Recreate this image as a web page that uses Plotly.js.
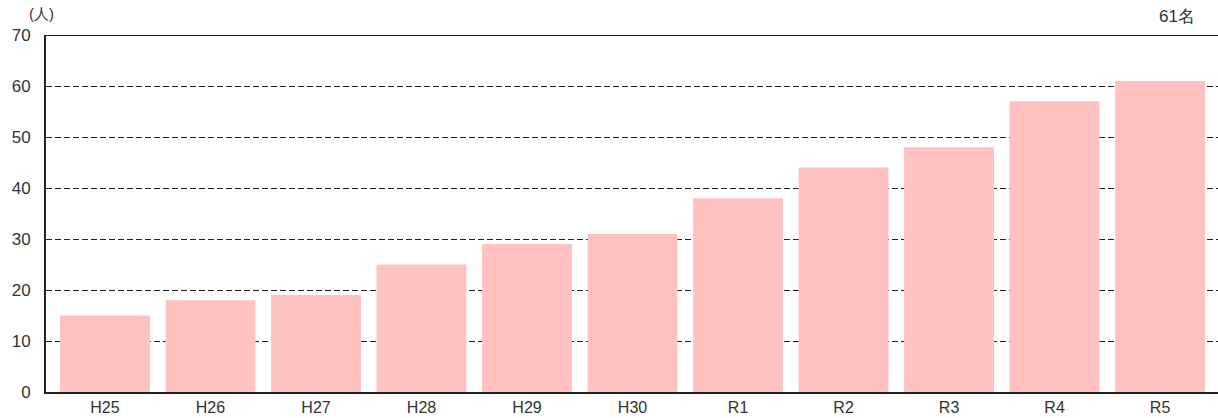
<!DOCTYPE html>
<html><head><meta charset="utf-8">
<script src="https://cdn.plot.ly/plotly-3.0.1.min.js"></script>
<style>body{margin:0;background:#fff}</style>
</head><body>
<div id="chart" style="width:1218px;height:418px"></div>
<script>
const categories = ["H25","H26","H27","H28","H29","H30","R1","R2","R3","R4","R5"];
const values = [15, 18, 19, 25, 29, 31, 38, 44, 48, 57, 61];
const yTicks = [0,10,20,30,40,50,60,70];
const unitLabel = "(人)";
const lastLabel = "61名";

const fontFam = "Liberation Sans, Arial, sans-serif";
Plotly.newPlot("chart", [{
  type: "bar",
  x: categories,
  y: values,
  marker: {color: "#ffc1c1"},
  hoverinfo: "x+y"
}], {
  width: 1218, height: 418,
  margin: {l: 46, r: 0, t: 35, b: 26},
  paper_bgcolor: "#fff", plot_bgcolor: "#fff",
  bargap: 0.148,
  showlegend: false,
  font: {family: fontFam, size: 17, color: "#333"},
  xaxis: {
    range: [-0.559, 10.549],
    showgrid: false, showline: true, linecolor: "#222", linewidth: 2,
    ticks: "", tickfont: {size: 16, color: "#333"}, fixedrange: true
  },
  yaxis: {
    range: [0, 70], tickvals: yTicks, showgrid: true, gridcolor: "#222",
    griddash: "6px,3px", gridwidth: 1, zeroline: false,
    showline: true, linecolor: "#222", linewidth: 2, ticks: "",
    ticklabelstandoff: 10, tickfont: {size: 17, color: "#333"}, fixedrange: true
  },
  shapes: [{type: "line", xref: "paper", yref: "y", x0: 0, x1: 1, y0: 70, y1: 70,
            line: {color: "#222", width: 2}}],
  annotations: [
    {text: unitLabel, xref: "paper", yref: "paper", x: -0.004, y: 1, yshift: 22,
     xanchor: "center", yanchor: "middle", showarrow: false, font: {size: 15, color: "#333"}},
    {text: lastLabel, xref: "paper", yref: "paper", x: 0.982, y: 1, yshift: 19,
     xanchor: "right", yanchor: "middle", showarrow: false, font: {size: 17, color: "#333"}}
  ]
}, {displayModeBar: false});
</script>
</body></html>
